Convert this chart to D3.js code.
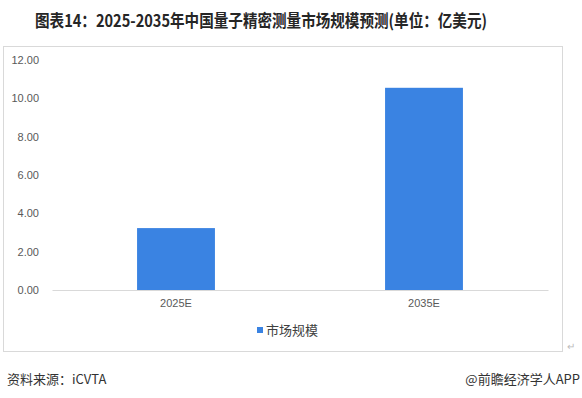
<!DOCTYPE html>
<html><head><meta charset="utf-8">
<script src="https://cdn.jsdelivr.net/npm/d3@7"></script>
<style>body{margin:0;background:#fff;}svg{display:block;}</style>
</head><body>
<script>
const categories = ["2025E", "2035E"];
const values = [3.23, 10.55];
const yTicks = [0, 2, 4, 6, 8, 10, 12];
const seriesName = "市场规模";
const title = "图表14：2025-2035年中国量子精密测量市场规模预测(单位：亿美元)";
const source = "资料来源：iCVTA";
const credit = "@前瞻经济学人APP";

const W = 582, H = 398;
const svg = d3.select("body").append("svg").attr("width", W).attr("height", H);
const font = "'Noto Sans CJK SC', 'Microsoft YaHei', sans-serif";

svg.append("text").attr("x", 261).attr("y", 27).attr("text-anchor", "middle")
  .attr("font-family", font).attr("font-weight", "bold").attr("font-size", 17)
  .attr("fill", "#262626").attr("textLength", 452).attr("lengthAdjust", "spacingAndGlyphs")
  .text(title);

svg.append("rect").attr("x", 3.5).attr("y", 46.5).attr("width", 559).attr("height", 305)
  .attr("fill", "none").attr("stroke", "#d9d9d9");

const x = d3.scaleBand().domain(categories).range([52, 548]).paddingInner(0.686).paddingOuter(0.343);
const y = d3.scaleLinear().domain([0, 12]).range([290, 60]);

const yAxis = svg.append("g").attr("transform", "translate(40,0)")
  .call(d3.axisLeft(y).tickValues(yTicks).tickFormat(d3.format(".2f")).tickSize(0));
yAxis.select(".domain").remove();
yAxis.selectAll("text").attr("font-family", "'Liberation Sans', Arial, sans-serif").attr("font-size", 11).attr("fill", "#595959").attr("dx", 2);

svg.selectAll("rect.bar").data(values).enter().append("rect").attr("class", "bar")
  .attr("x", (d, i) => x(categories[i])).attr("width", x.bandwidth())
  .attr("y", d => y(d)).attr("height", d => y(0) - y(d)).attr("fill", "#3A83E2");

const xAxis = svg.append("g").attr("transform", "translate(0,290)")
  .call(d3.axisBottom(x).tickSize(0).tickPadding(9));
xAxis.select(".domain").attr("stroke", "#d9d9d9");
xAxis.selectAll("text").attr("font-family", "'Liberation Sans', Arial, sans-serif").attr("font-size", 11).attr("fill", "#595959");

const lg = svg.append("g").attr("transform", "translate(257,327)");
lg.append("rect").attr("width", 6).attr("height", 6).attr("fill", "#3A83E2");
lg.append("text").attr("x", 9).attr("y", 8).attr("font-family", font).attr("font-size", 13)
  .attr("fill", "#404040").text(seriesName);

svg.append("text").attr("x", 567).attr("y", 350).attr("font-size", 10).attr("fill", "#bbb").text("↵");

svg.append("text").attr("x", 7).attr("y", 384).attr("font-family", font).attr("font-size", 13)
  .attr("fill", "#333").text(source);
svg.append("text").attr("x", 580).attr("y", 384).attr("text-anchor", "end").attr("font-family", font).attr("font-size", 13)
  .attr("fill", "#333").text(credit);
</script>
</body></html>
